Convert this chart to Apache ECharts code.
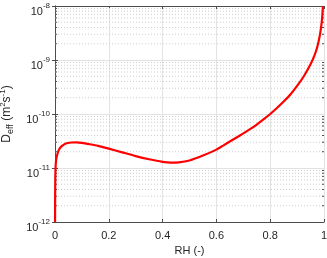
<!DOCTYPE html>
<html>
<head>
<meta charset="utf-8">
<script src="https://cdn.jsdelivr.net/npm/echarts@6/dist/echarts.min.js"></script>
<style>html,body{margin:0;padding:0;background:#fff}#c{width:327px;height:258px}</style>
</head>
<body>
<div id="c"></div>
<script>
var rh = [0.0002, 0.0005, 0.001, 0.002, 0.004, 0.008, 0.015, 0.025, 0.04, 0.06, 0.08, 0.10, 0.13, 0.16, 0.20, 0.25, 0.30, 0.35, 0.40, 0.43, 0.46, 0.50, 0.55, 0.60, 0.625, 0.65, 0.675, 0.70, 0.725, 0.75, 0.775, 0.80, 0.825, 0.85, 0.875, 0.90, 0.925, 0.95, 0.965, 0.975, 0.985, 0.992, 0.996];
var deff = [1.0e-12, 2.82e-12, 6.03e-12, 1.0e-11, 1.38e-11, 1.74e-11, 2.19e-11, 2.54e-11, 2.85e-11, 2.97e-11, 2.99e-11, 2.92e-11, 2.75e-11, 2.57e-11, 2.29e-11, 1.95e-11, 1.66e-11, 1.45e-11, 1.30e-11, 1.26e-11, 1.27e-11, 1.38e-11, 1.70e-11, 2.19e-11, 2.60e-11, 3.09e-11, 3.67e-11, 4.37e-11, 5.25e-11, 6.38e-11, 7.94e-11, 1.0e-10, 1.29e-10, 1.70e-10, 2.29e-10, 3.31e-10, 5.01e-10, 8.32e-10, 1.23e-9, 1.74e-9, 2.95e-9, 5.25e-9, 1.0e-8];
var xTicks = [0, 0.2, 0.4, 0.6, 0.8, 1];
var yDecades = [1e-12, 1e-11, 1e-10, 1e-9, 1e-8];
var minorMult = [2, 3, 4, 5, 6, 7, 8, 9];

var data = rh.map(function (x, i) { return [x, deff[i]]; });
var minorVals = [];
yDecades.slice(0, -1).forEach(function (d) {
  minorMult.forEach(function (m) { minorVals.push([0, d * m]); });
});

var txt = '#262626';
var axisCol = '#4d4d4d';
var fontFam = '"Liberation Sans", Arial, Helvetica, sans-serif';

function yLab(v) {
  var e = Math.round(Math.log10(v));
  return '{b|10}{s|' + e + '}';
}

var chart = echarts.init(document.getElementById('c'), null, { renderer: 'canvas' });
chart.setOption({
  animation: false,
  backgroundColor: '#fff',
  grid: { left: 55, right: 3, top: 6, bottom: 36, containLabel: false, outerBoundsMode: 'none' },
  xAxis: [{
    type: 'value', min: 0, max: 1, interval: 0.2,
    name: 'RH (-)', nameLocation: 'middle', nameGap: 21,
    nameTextStyle: { color: txt, fontSize: 11, fontFamily: fontFam },
    axisLine: { lineStyle: { color: axisCol, width: 1 } },
    axisTick: { inside: true, length: 3, lineStyle: { color: axisCol } },
    axisLabel: { color: txt, fontSize: 11, fontFamily: fontFam, margin: 8 },
    splitLine: { show: true, lineStyle: { color: '#e3e3e3', width: 1 } }
  }, {
    type: 'value', min: 0, max: 1, interval: 0.2, position: 'top',
    axisLine: { show: true, lineStyle: { color: axisCol, width: 1 } },
    axisTick: { inside: true, length: 3, lineStyle: { color: axisCol } },
    axisLabel: { show: false }, splitLine: { show: false }
  }],
  yAxis: [{
    type: 'log', logBase: 10, min: 1e-12, max: 1e-8,
    name: '{t|D}{sub|eff}{t| (m}{sup|2}{t|s}{sup|-1}{t|)}',
    nameLocation: 'middle', nameGap: 30, nameRotate: 90,
    nameTextStyle: {
      rich: {
        t: { fontSize: 12, color: txt, fontFamily: fontFam, verticalAlign: 'top', lineHeight: 12, padding: [3, 0, 0, 0] },
        sub: { fontSize: 9, color: txt, fontFamily: fontFam, verticalAlign: 'top', lineHeight: 8, padding: [9, 0, 0, 0] },
        sup: { fontSize: 8, color: txt, fontFamily: fontFam, verticalAlign: 'top', lineHeight: 8, padding: [1, 0, 0, 0] }
      }
    },
    axisLine: { lineStyle: { color: axisCol, width: 1 } },
    axisTick: { inside: true, length: 3, lineStyle: { color: axisCol } },
    axisLabel: {
      formatter: yLab, margin: 5,
      rich: {
        b: { fontSize: 11, color: txt, fontFamily: fontFam, verticalAlign: 'top', lineHeight: 12, padding: [6, 0, 0, 0] },
        s: { fontSize: 8, color: txt, fontFamily: fontFam, verticalAlign: 'top', lineHeight: 8, padding: [2, 0, 0, 0] }
      }
    },
    splitLine: { show: true, lineStyle: { color: '#e3e3e3', width: 1 } }
  }, {
    type: 'log', logBase: 10, min: 1e-12, max: 1e-8, position: 'right',
    axisLine: { show: true, lineStyle: { color: axisCol, width: 1 } },
    axisTick: { inside: true, length: 3, lineStyle: { color: axisCol } },
    axisLabel: { show: false }, splitLine: { show: false }
  }],
  series: [{
    type: 'custom', xAxisIndex: 0, yAxisIndex: 0, silent: true, z: 1,
    data: minorVals,
    renderItem: function (params, api) {
      var p0 = api.coord([0, api.value(1)]);
      var p1 = api.coord([1, api.value(1)]);
      return {
        type: 'group',
        children: [
          { type: 'line', shape: { x1: p0[0], y1: p0[1], x2: p1[0], y2: p1[1] },
            style: { stroke: '#cfcfcf', lineWidth: 1, lineDash: [1, 2] } },
          { type: 'line', shape: { x1: p0[0], y1: p0[1], x2: p0[0] + 2, y2: p0[1] },
            style: { stroke: axisCol, lineWidth: 1 } },
          { type: 'line', shape: { x1: p1[0] - 2, y1: p1[1], x2: p1[0], y2: p1[1] },
            style: { stroke: axisCol, lineWidth: 1 } }
        ]
      };
    }
  }, {
    type: 'line', xAxisIndex: 0, yAxisIndex: 0,
    data: data, showSymbol: false, symbol: 'none',
    smooth: 0.2,
    lineStyle: { color: '#ff0000', width: 2.2 },
    z: 5
  }]
});
</script>
</body>
</html>
